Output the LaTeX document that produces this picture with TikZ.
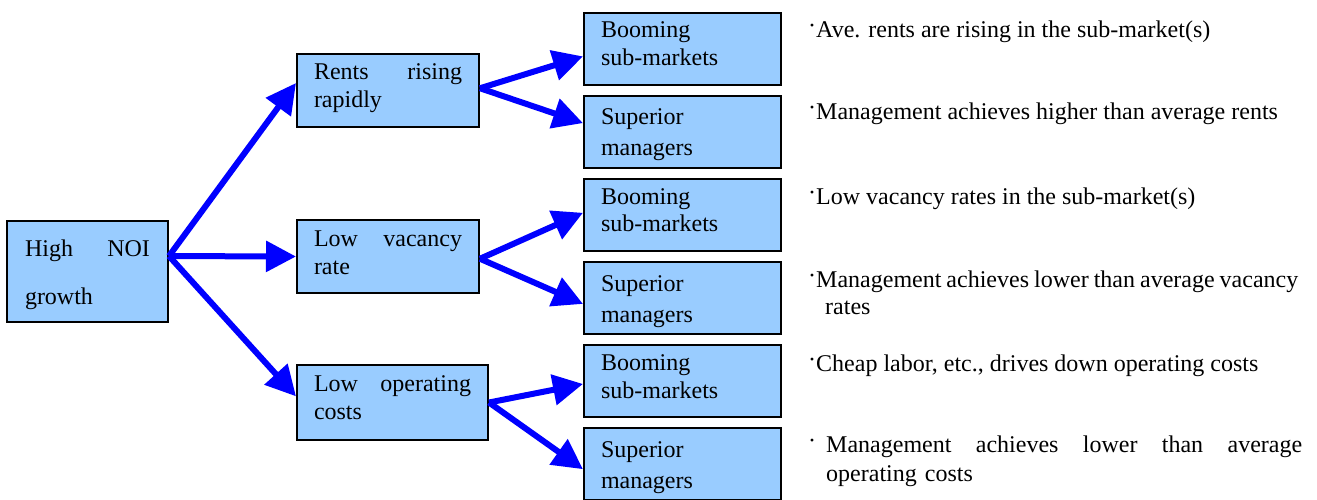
\documentclass[tikz,border=0pt]{standalone}
\usepackage{fontspec}
\setmainfont{Liberation Serif}
\usetikzlibrary{arrows.meta,calc}
\definecolor{boxfill}{HTML}{99CCFF}
\definecolor{arrowblue}{HTML}{0000FF}

\newcommand{\bul}{\raisebox{4pt}{·}}

\begin{document}
\begin{tikzpicture}[x=1pt,y=-1pt,
  box/.style={draw=black,line width=2pt,fill=boxfill,rectangle,anchor=north west,
    align=left,inner ysep=0pt,inner xsep=17pt,font=\fontsize{24}{28}\selectfont},
  midbox/.style={box,minimum height=73pt,text width=148pt,text height=26pt,text depth=47pt},
  boombox/.style={box,minimum height=72pt,text width=163pt,text height=25pt,text depth=47pt},
  supbox/.style={box,minimum height=72pt,text width=163pt,text height=29pt,text depth=43pt},
  link/.style={draw=arrowblue,line width=6pt,-{Triangle[length=30pt,width=30pt]}},
  note/.style={anchor=base west,inner sep=0pt,font=\fontsize{24}{27}\selectfont,align=left}
]
\useasboundingbox (0,0) rectangle (1317,500);

% root
\node[box,minimum height=101pt,text width=125pt,inner xsep=18pt,text height=35pt,text depth=66pt]
  (hn) at (6,220) {High\hfill NOI\\[20pt]growth};

% second level
\node[midbox] (rr) at (296,53) {Rents\hfill rising\\rapidly};
\node[midbox] (lv) at (296,219) {Low\hfill vacancy\\rate};
\node[midbox,text width=157pt,minimum height=75pt,text depth=49pt] (oc) at (296,364)
  {Low\hfill operating\\costs};

% third level
\node[boombox] (b1) at (583,12)  {Booming\\sub-markets};
\node[supbox]  (s1) at (583,95)  {Superior\\[3pt]managers};
\node[boombox] (b2) at (583,178) {Booming\\sub-markets};
\node[supbox]  (s2) at (583,261) {Superior\\[3pt]managers};
\node[boombox] (b3) at (583,344) {Booming\\sub-markets};
\node[supbox]  (s3) at (583,427) {Superior\\[3pt]managers};

% notes
\node[note] (n1) at (808,38)  {\bul Ave. rents are rising in the sub-market(s)};
\node[note] (n2) at (808,120) {\bul Management achieves higher than average rents};
\node[note] (n3) at (808,204) {\bul Low vacancy rates in the sub-market(s)};
\node[note,text width=530pt] (n4) at (808,287)
  {\spaceskip=5pt plus 1pt\bul Management achieves lower than average vacancy\\\hspace*{17pt}rates};
\node[note] (n5) at (808,371) {\bul Cheap labor, etc., drives down operating costs};
\node[note,text width=494pt] (n6) at (808,452)
  {\makebox[18pt][l]{\bul}Management\hfill achieves\hfill lower\hfill than\hfill average\\[2pt]\hspace*{18pt}operating costs};

% connectors
\coordinate (hnout) at ($(hn.north east)!0.35!(hn.south east)$);
\draw[link] (hnout) -- ($(rr.north west)!0.4!(rr.south west)$);
\draw[link] (hnout) -- (lv.west);
\draw[link] (hnout) -- ($(oc.north west)!0.42!(oc.south west)$);

\coordinate (rrout) at ($(rr.north east)!0.47!(rr.south east)$);
\draw[link] (rrout) -- ($(b1.north west)!0.6!(b1.south west)$);
\draw[link] (rrout) -- ($(s1.north west)!0.38!(s1.south west)$);

\coordinate (lvout) at ($(lv.north east)!0.53!(lv.south east)$);
\draw[link] (lvout) -- ($(b2.north west)!0.47!(b2.south west)$);
\draw[link] (lvout) -- ($(s2.north west)!0.58!(s2.south west)$);

\coordinate (ocout) at ($(oc.north east)!0.5!(oc.south east)$);
\draw[link] (ocout) -- ($(b3.north west)!0.54!(b3.south west)$);
\draw[link] (ocout) -- ($(s3.north west)!0.57!(s3.south west)$);
\end{tikzpicture}
\end{document}
